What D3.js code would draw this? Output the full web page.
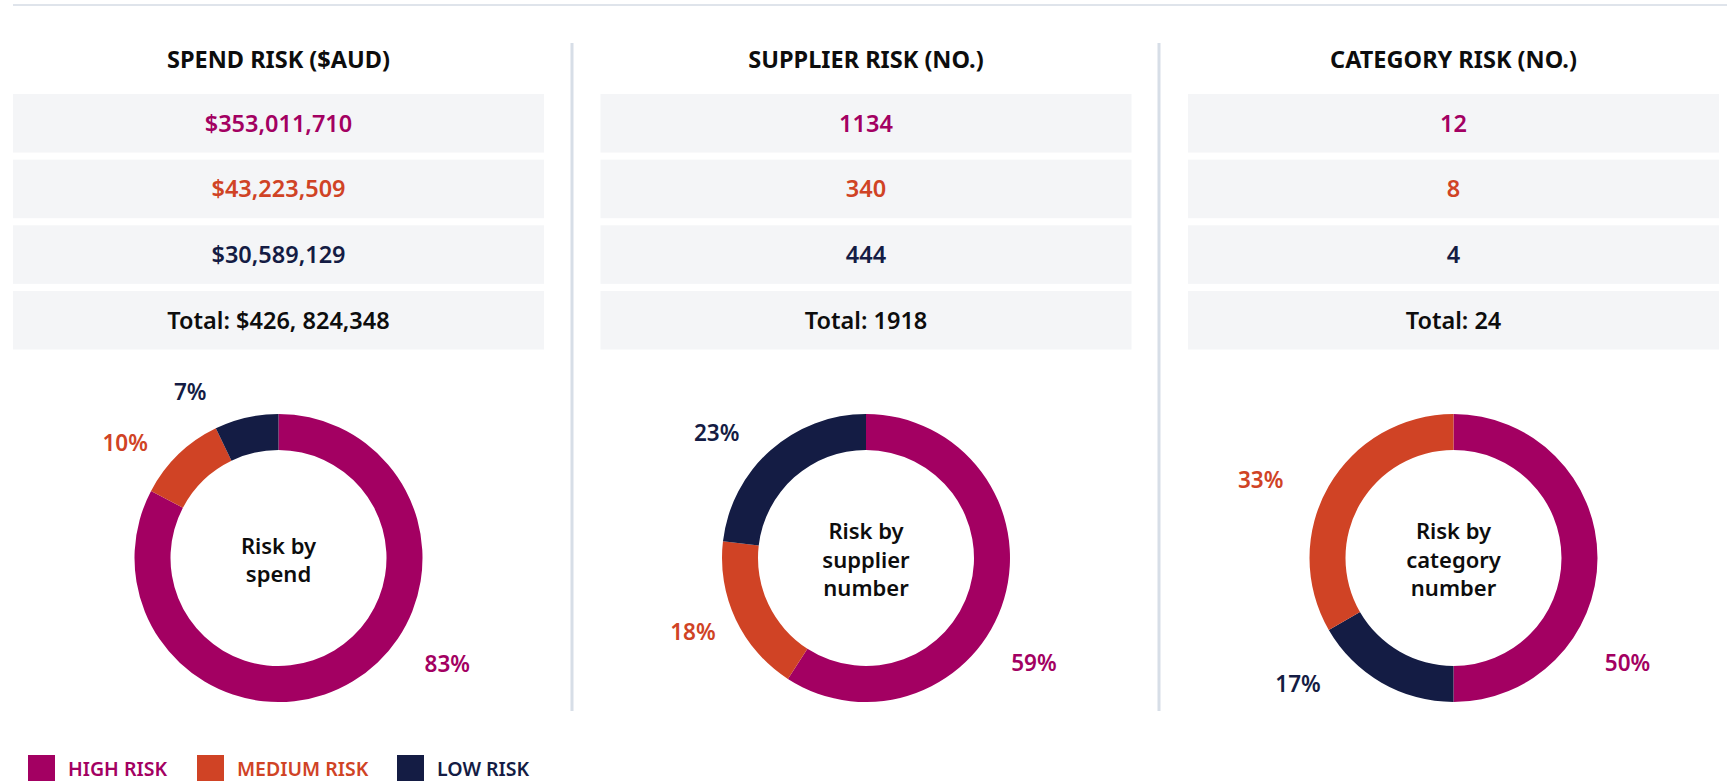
<!DOCTYPE html>
<html>
<head>
<meta charset="utf-8">
<script src="https://cdn.jsdelivr.net/npm/d3@7/dist/d3.min.js"></script>
<style>
    body { margin: 0; background: #ffffff; }
    svg text { font-family: "Noto Sans", "DejaVu Sans", sans-serif; }
    .panel-title { font-size: 23.5px; font-weight: 700; fill: #0d0d0d; }
    .cell-value { font-size: 23.5px; font-weight: 600; }
    .donut-caption { font-size: 22px; font-weight: 600; fill: #0d0d0d; }
    .pct-label { font-size: 22.5px; font-weight: 600; }
    .legend-label { font-size: 19.5px; font-weight: 600; }
</style>
</head>
<body>
<div id="risk-chart"></div>
<script>
// ---- data ----
var riskLevels = ["HIGH RISK", "MEDIUM RISK", "LOW RISK"];
var panelTitles = ["SPEND RISK ($AUD)", "SUPPLIER RISK (NO.)", "CATEGORY RISK (NO.)"];
var donutCaptions = [["Risk by", "spend"], ["Risk by", "supplier", "number"], ["Risk by", "category", "number"]];

var spendValues = [353011710, 43223509, 30589129];
var supplierValues = [1134, 340, 444];
var categoryValues = [12, 8, 4];

var totalLabels = ["Total: $426, 824,348", "Total: 1918", "Total: 24"];

// slice order round each ring (index into riskLevels), clockwise from 12 o'clock
var sliceOrders = [[0, 1, 2], [0, 1, 2], [0, 2, 1]];

// ---- layout ----
var riskColors = ["#a30062", "#d04325", "#141c44"];
// where each percentage label sits: degrees clockwise from top, distance from centre
var labelAngles = [[122, 307, 332], [122, 247, 310], [121, 292, 231]];
var labelRadii = [[199, 192, 188], [198, 188, 195], [203, 208, 200]];

var W = 1727, H = 781;

var RiskPanel = function(_svg, _index, _values, _format){
    this.svg = _svg;
    this.index = _index;
    this.values = _values;
    this.format = _format;
    this.initVis();
};

RiskPanel.prototype.initVis = function(){
    var vis = this;

    vis.boxWidth = 531;
    vis.left = 13 + vis.index * 587.5;
    vis.cx = vis.left + vis.boxWidth / 2;

    vis.g = vis.svg.append("g").attr("class", "panel");

    vis.g.append("text")
        .attr("class", "panel-title")
        .attr("x", vis.cx)
        .attr("y", 68)
        .attr("text-anchor", "middle")
        .text(panelTitles[vis.index]);

    // value rows + total row
    var rows = vis.values.map(function(v, i){
        return { label: vis.format(v), color: riskColors[i] };
    });
    rows.push({ label: totalLabels[vis.index], color: "#0d0d0d" });

    vis.rowY = d3.scaleBand()
        .domain(d3.range(rows.length))
        .range([94, 349.5])
        .paddingInner(0.108)
        .paddingOuter(0);

    var row = vis.g.selectAll(".row")
        .data(rows)
        .enter().append("g")
        .attr("class", "row")
        .attr("transform", function(d, i){ return "translate(" + vis.left + "," + vis.rowY(i) + ")"; });

    row.append("rect")
        .attr("width", vis.boxWidth)
        .attr("height", vis.rowY.bandwidth())
        .attr("fill", "#f4f5f7");

    row.append("text")
        .attr("class", "cell-value")
        .attr("x", vis.boxWidth / 2)
        .attr("y", vis.rowY.bandwidth() / 2)
        .attr("dy", "0.36em")
        .attr("text-anchor", "middle")
        .style("fill", function(d){ return d.color; })
        .text(function(d){ return d.label; });

    vis.updateVis();
};

RiskPanel.prototype.updateVis = function(){
    var vis = this;

    var cy = 558;
    var order = sliceOrders[vis.index];
    var total = d3.sum(vis.values);

    var slices = order.map(function(k){
        return { key: k, value: vis.values[k] };
    });

    var pie = d3.pie().sort(null).value(function(d){ return d.value; });
    var arc = d3.arc().innerRadius(108).outerRadius(144);

    var donut = vis.g.append("g")
        .attr("class", "donut")
        .attr("transform", "translate(" + vis.cx + "," + cy + ")");

    donut.selectAll("path")
        .data(pie(slices))
        .enter().append("path")
        .attr("d", arc)
        .attr("fill", function(d){ return riskColors[d.data.key]; });

    donut.selectAll(".pct-label")
        .data(slices)
        .enter().append("text")
        .attr("class", "pct-label")
        .attr("text-anchor", "middle")
        .attr("dy", "0.36em")
        .attr("x", function(d){
            var a = labelAngles[vis.index][d.key] * Math.PI / 180;
            return labelRadii[vis.index][d.key] * Math.sin(a);
        })
        .attr("y", function(d){
            var a = labelAngles[vis.index][d.key] * Math.PI / 180;
            return -labelRadii[vis.index][d.key] * Math.cos(a);
        })
        .style("fill", function(d){ return riskColors[d.key]; })
        .text(function(d){ return Math.round(d.value / total * 100) + "%"; });

    var lines = donutCaptions[vis.index];
    var lineH = 28.5;
    donut.append("text")
        .attr("class", "donut-caption")
        .attr("text-anchor", "middle")
        .selectAll("tspan")
        .data(lines)
        .enter().append("tspan")
        .attr("x", 0)
        .attr("y", function(d, i){ return (i - (lines.length - 1) / 2) * lineH + 2; })
        .attr("dy", "0.36em")
        .text(function(d){ return d; });
};

var svg = d3.select("#risk-chart").append("svg")
    .attr("width", W)
    .attr("height", H);

// top rule
svg.append("rect")
    .attr("x", 13).attr("y", 4)
    .attr("width", W - 13).attr("height", 2)
    .attr("fill", "#dfe4eb");

// column separators
[572, 1159].forEach(function(x){
    svg.append("rect")
        .attr("x", x - 1.5).attr("y", 43)
        .attr("width", 3).attr("height", 668)
        .attr("fill", "#d7dee7");
});

var panels = [
    new RiskPanel(svg, 0, spendValues, d3.format("$,")),
    new RiskPanel(svg, 1, supplierValues, d3.format("d")),
    new RiskPanel(svg, 2, categoryValues, d3.format("d"))
];

// legend
var legendX = [28, 197, 397];
var legend = svg.selectAll(".legend")
    .data(riskLevels)
    .enter().append("g")
    .attr("class", "legend")
    .attr("transform", function(d, i){ return "translate(" + legendX[i] + ",755)"; });

legend.append("rect")
    .attr("width", 27)
    .attr("height", 27)
    .style("fill", function(d, i){ return riskColors[i]; });

legend.append("text")
    .attr("class", "legend-label")
    .attr("x", 40)
    .attr("y", 21)
    .style("fill", function(d, i){ return riskColors[i]; })
    .text(function(d){ return d; });
</script>
</body>
</html>
